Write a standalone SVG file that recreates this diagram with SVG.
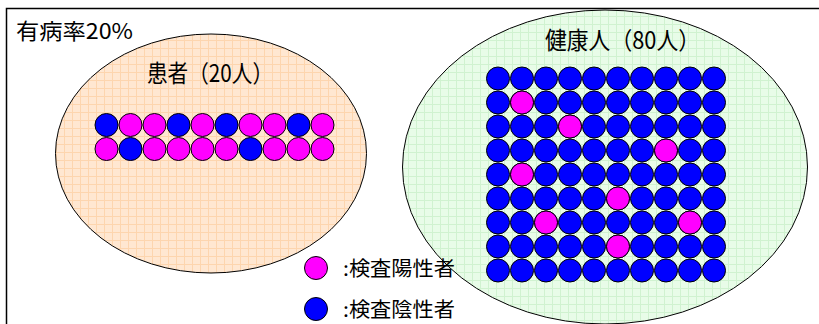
<svg xmlns="http://www.w3.org/2000/svg" width="819" height="324" viewBox="0 0 819 324">
<style>
text{font-family:"Noto Sans CJK JP","Noto Sans",sans-serif;fill:#000}
.p{fill:#FF00FF;stroke:#000;stroke-width:1}
.b{fill:#0000FF;stroke:#000;stroke-width:1}
.ell{stroke:#000;stroke-width:1}
</style>
<defs>
<pattern id="gp" width="8" height="8" patternUnits="userSpaceOnUse">
<rect width="8" height="8" fill="#FFE7D1"/>
<path d="M0 0.5H8M0.5 0V8" stroke="#FDD5AE" stroke-width="1"/>
</pattern>
<pattern id="gg" width="8" height="8" patternUnits="userSpaceOnUse">
<rect width="8" height="8" fill="#E8FCE8"/>
<path d="M0 0.5H8M0.5 0V8" stroke="#D0F2D0" stroke-width="1"/>
</pattern>
</defs>
<rect width="819" height="324" fill="#fff"/>
<path d="M6.5 324V8.5H819" fill="none" stroke="#000" stroke-width="1.5"/>
<text x="16" y="39" font-size="22" textLength="117" lengthAdjust="spacingAndGlyphs">有病率20%</text>
<g id="patients">
<ellipse class="ell" cx="211" cy="153.5" rx="155.5" ry="119.5" fill="url(#gp)"/>
<text x="147" y="82" font-size="24" textLength="126" lengthAdjust="spacingAndGlyphs">患者（20人）</text>
</g>
<g id="healthy">
<ellipse class="ell" cx="605" cy="167" rx="202.5" ry="157" fill="url(#gg)"/>
<text x="545" y="49" font-size="24" textLength="155" lengthAdjust="spacingAndGlyphs">健康人（80人）</text>
</g>
<g id="dots-left">
<circle class="b" cx="106.5" cy="125" r="11.5"/><circle class="p" cx="130.5" cy="125" r="11.5"/><circle class="p" cx="154.5" cy="125" r="11.5"/><circle class="b" cx="178.5" cy="125" r="11.5"/><circle class="p" cx="202.5" cy="125" r="11.5"/><circle class="b" cx="226.5" cy="125" r="11.5"/><circle class="p" cx="250.5" cy="125" r="11.5"/><circle class="p" cx="274.5" cy="125" r="11.5"/><circle class="b" cx="298.5" cy="125" r="11.5"/><circle class="p" cx="322.5" cy="125" r="11.5"/>
<circle class="p" cx="106.5" cy="149" r="11.5"/><circle class="b" cx="130.5" cy="149" r="11.5"/><circle class="p" cx="154.5" cy="149" r="11.5"/><circle class="p" cx="178.5" cy="149" r="11.5"/><circle class="p" cx="202.5" cy="149" r="11.5"/><circle class="p" cx="226.5" cy="149" r="11.5"/><circle class="b" cx="250.5" cy="149" r="11.5"/><circle class="p" cx="274.5" cy="149" r="11.5"/><circle class="p" cx="298.5" cy="149" r="11.5"/><circle class="p" cx="322.5" cy="149" r="11.5"/>
</g>
<g id="dots-right">
<g transform="translate(498,78.5)">
<g id="row"><circle class="b" cx="0" cy="0" r="11.5"/><circle class="b" cx="24" cy="0" r="11.5"/><circle class="b" cx="48" cy="0" r="11.5"/><circle class="b" cx="72" cy="0" r="11.5"/><circle class="b" cx="96" cy="0" r="11.5"/><circle class="b" cx="120" cy="0" r="11.5"/><circle class="b" cx="144" cy="0" r="11.5"/><circle class="b" cx="168" cy="0" r="11.5"/><circle class="b" cx="192" cy="0" r="11.5"/><circle class="b" cx="216" cy="0" r="11.5"/></g>
<use href="#row" y="24"/><use href="#row" y="48"/><use href="#row" y="72"/><use href="#row" y="96"/><use href="#row" y="120"/><use href="#row" y="144"/><use href="#row" y="168"/><use href="#row" y="192"/>
<circle class="p" cx="24" cy="24" r="11.5"/>
<circle class="p" cx="72" cy="48" r="11.5"/>
<circle class="p" cx="168" cy="72" r="11.5"/>
<circle class="p" cx="24" cy="96" r="11.5"/>
<circle class="p" cx="120" cy="120" r="11.5"/>
<circle class="p" cx="48" cy="144" r="11.5"/>
<circle class="p" cx="192" cy="144" r="11.5"/>
<circle class="p" cx="120" cy="168" r="11.5"/>
</g>
</g>
<g id="legend">
<circle class="p" cx="316" cy="268" r="11.5"/>
<text x="343" y="276" font-size="20" textLength="112" lengthAdjust="spacingAndGlyphs">:検査陽性者</text>
<circle class="b" cx="316" cy="309" r="11.5"/>
<text x="343" y="317" font-size="20" textLength="112" lengthAdjust="spacingAndGlyphs">:検査陰性者</text>
</g>
</svg>
